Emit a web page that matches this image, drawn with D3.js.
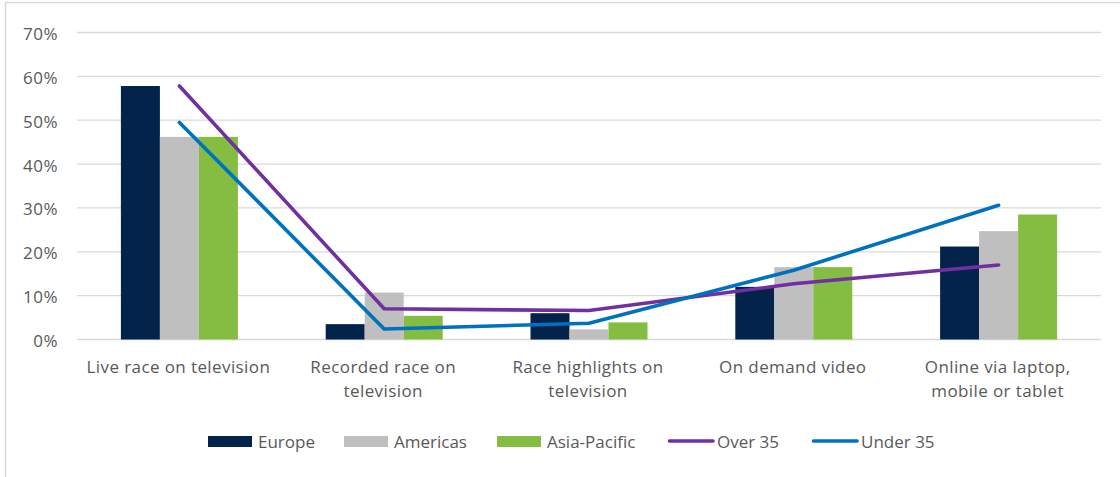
<!DOCTYPE html>
<html>
<head>
<meta charset="utf-8">
<script src="https://cdnjs.cloudflare.com/ajax/libs/d3/7.8.5/d3.min.js"></script>
<style>
  body { margin: 0; background: #fff; }
  text { font-family: "Open Sans", Lato, sans-serif; fill: #595959; }
</style>
</head>
<body>
<div id="chart"></div>
<script>
// data
var categories = ["Live race on television", "Recorded race on television",
    "Race highlights on television", "On demand video", "Online via laptop, mobile or tablet"];
var catLines = [["Live race on television"], ["Recorded race on", "television"],
    ["Race highlights on", "television"], ["On demand video"], ["Online via laptop,", "mobile or tablet"]];
var europe = [57.8, 3.5, 6.0, 12.0, 21.2];
var americas = [46.2, 10.7, 2.3, 16.5, 24.7];
var asiaPacific = [46.2, 5.4, 3.9, 16.5, 28.5];
var over35 = [57.8, 7.0, 6.6, 12.7, 17.0];
var under35 = [49.5, 2.4, 3.7, 15.8, 30.6];
var yTicks = [0, 10, 20, 30, 40, 50, 60, 70];

var barSeries = [
    {name: "Europe", values: europe, color: "#03234b"},
    {name: "Americas", values: americas, color: "#bfbfbf"},
    {name: "Asia-Pacific", values: asiaPacific, color: "#84bd41"}
];
var lineSeries = [
    {name: "Over 35", values: over35, color: "#7030a0"},
    {name: "Under 35", values: under35, color: "#0070c0"}
];

var W = 1120, H = 477;
var plot = {left: 77, right: 1101, top: 32.5, bottom: 339.5};

var svg = d3.select("#chart").append("svg")
    .attr("width", W)
    .attr("height", H);

// chart area border
svg.append("rect")
    .attr("x", 5.5).attr("y", 2.5)
    .attr("width", W + 10).attr("height", H + 10)
    .attr("fill", "none")
    .attr("stroke", "#d9d9d9")
    .attr("stroke-width", 1.5);

var x = d3.scaleBand()
    .domain(categories)
    .range([plot.left, plot.right]);

var x1 = d3.scaleBand()
    .domain(barSeries.map(function(s) { return s.name; }))
    .range([0, 117]);

var y = d3.scaleLinear()
    .domain([0, 70])
    .range([plot.bottom, plot.top]);

// gridlines
svg.append("g")
    .selectAll("line")
    .data(yTicks)
    .enter().append("line")
    .attr("x1", plot.left).attr("x2", plot.right)
    .attr("y1", function(d) { return y(d); })
    .attr("y2", function(d) { return y(d); })
    .attr("stroke", "#d9d9d9")
    .attr("stroke-width", 1.3);

// y tick labels
svg.append("g")
    .selectAll("text")
    .data(yTicks)
    .enter().append("text")
    .attr("x", 58)
    .attr("y", function(d) { return y(d); })
    .attr("dy", "0.44em")
    .attr("text-anchor", "end")
    .style("font-size", "17px")
    .style("letter-spacing", "0.5px")
    .text(function(d) { return d + "%"; });

// bars
var groups = svg.append("g")
    .selectAll("g")
    .data(categories)
    .enter().append("g")
    .attr("transform", function(c) {
        return "translate(" + (x(c) + x.bandwidth() / 2 - 58.5) + ",0)";
    });

groups.selectAll("rect")
    .data(function(c, i) {
        return barSeries.map(function(s) { return {s: s, v: s.values[i]}; });
    })
    .enter().append("rect")
    .attr("x", function(d) { return x1(d.s.name); })
    .attr("width", x1.bandwidth())
    .attr("y", function(d) { return y(d.v); })
    .attr("height", function(d) { return y(0) - y(d.v); })
    .attr("fill", function(d) { return d.s.color; });

// lines
var line = d3.line()
    .x(function(d, i) { return x(categories[i]) + x.bandwidth() / 2; })
    .y(function(d) { return y(d); });

svg.append("g")
    .selectAll("path")
    .data(lineSeries)
    .enter().append("path")
    .attr("d", function(s) { return line(s.values); })
    .attr("fill", "none")
    .attr("stroke", function(s) { return s.color; })
    .attr("stroke-width", 3.6)
    .attr("stroke-linecap", "round")
    .attr("stroke-linejoin", "round");

// category labels
var labels = svg.append("g")
    .selectAll("text")
    .data(categories)
    .enter().append("text")
    .attr("text-anchor", "middle")
    .style("font-size", "17px")
    .style("letter-spacing", "0.4px")
    .attr("transform", function(c) {
        return "translate(" + (x(c) + x.bandwidth() / 2 - 1) + ",373)";
    });

labels.selectAll("tspan")
    .data(function(c, i) { return catLines[i]; })
    .enter().append("tspan")
    .attr("x", 0)
    .attr("dy", function(d, i) { return i ? 24 : 0; })
    .text(function(d) { return d; });

// legend
var legendItems = barSeries.map(function(s) { return {name: s.name, color: s.color, type: "bar"}; })
    .concat(lineSeries.map(function(s) { return {name: s.name, color: s.color, type: "line"}; }));
var legendX = [208, 344, 497, 668, 812];

var legend = svg.append("g")
    .selectAll("g")
    .data(legendItems)
    .enter().append("g")
    .attr("transform", function(d, i) { return "translate(" + legendX[i] + ",442)"; });

legend.filter(function(d) { return d.type == "bar"; })
    .append("rect")
    .attr("x", 0).attr("y", -6)
    .attr("width", 44).attr("height", 11)
    .attr("fill", function(d) { return d.color; });

legend.filter(function(d) { return d.type == "line"; })
    .append("line")
    .attr("x1", 1.5).attr("x2", 45)
    .attr("y1", -1).attr("y2", -1)
    .attr("stroke", function(d) { return d.color; })
    .attr("stroke-width", 3.6)
    .attr("stroke-linecap", "round");

legend.append("text")
    .attr("x", function(d) { return d.type == "bar" ? 50 : 49; })
    .attr("dy", "0.36em")
    .style("font-size", "17px")
    .text(function(d) { return d.name; });
</script>
</body>
</html>
